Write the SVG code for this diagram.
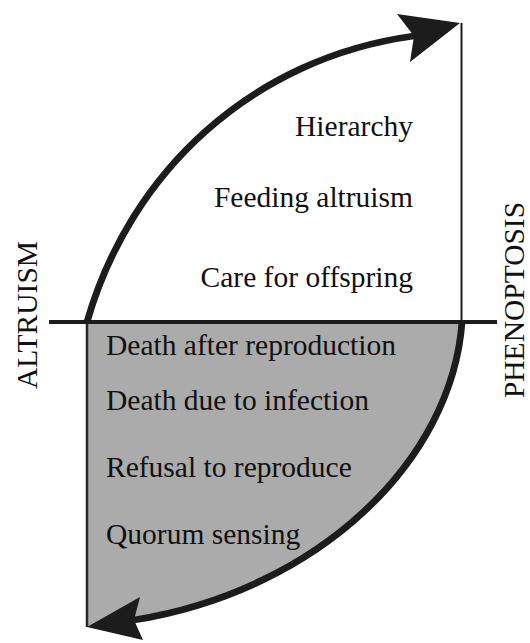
<svg xmlns="http://www.w3.org/2000/svg" width="530" height="643" viewBox="0 0 530 643">
  <style>
    .t { font-family: "Liberation Serif", "Times New Roman", serif; font-size: 29.5px; fill: #111; }
    .curve { fill: none; stroke: #1c1c1c; stroke-width: 6.8; stroke-linecap: butt; }
    .head { fill: #1c1c1c; }
  </style>
  <rect x="0" y="0" width="530" height="643" fill="#ffffff"/>

  <g id="lower-region">
    <path d="M87,322 L462,322 C452,460 320,590 134,620 L87,627 Z" fill="#ababab"/>
    <line x1="87" y1="322" x2="87" y2="627" stroke="#2a2a2a" stroke-width="2.5"/>
  </g>

  <g id="upper-region">
    <line x1="461.5" y1="23" x2="461.5" y2="322" stroke="#1c1c1c" stroke-width="2"/>
  </g>

  <g id="axis">
    <line x1="49" y1="322" x2="497" y2="322" stroke="#1c1c1c" stroke-width="4"/>
  </g>

  <g id="connectors">
    <path class="curve" d="M87,322 C130,172 252,58 414,36"/>
    <polygon class="head" points="460,23 397,14 414,36 410,62"/>
    <path class="curve" d="M462,322 C452,460 320,590 134,620"/>
    <polygon class="head" points="87,627 140,597 134,620 143,640"/>
  </g>

  <g id="altruism-items">
    <text class="t" x="413" y="136" text-anchor="end">Hierarchy</text>
    <text class="t" x="413" y="207" text-anchor="end">Feeding altruism</text>
    <text class="t" x="413" y="287" text-anchor="end">Care for offspring</text>
  </g>

  <g id="phenoptosis-items">
    <text class="t" x="106" y="355">Death after reproduction</text>
    <text class="t" x="106" y="410">Death due to infection</text>
    <text class="t" x="106" y="477">Refusal to reproduce</text>
    <text class="t" x="106" y="544">Quorum sensing</text>
  </g>

  <g id="label-altruism">
    <text class="t" transform="translate(37,315) rotate(-90)" text-anchor="middle">ALTRUISM</text>
  </g>
  <g id="label-phenoptosis">
    <text class="t" transform="translate(524,300) rotate(-90)" text-anchor="middle">PHENOPTOSIS</text>
  </g>
</svg>
